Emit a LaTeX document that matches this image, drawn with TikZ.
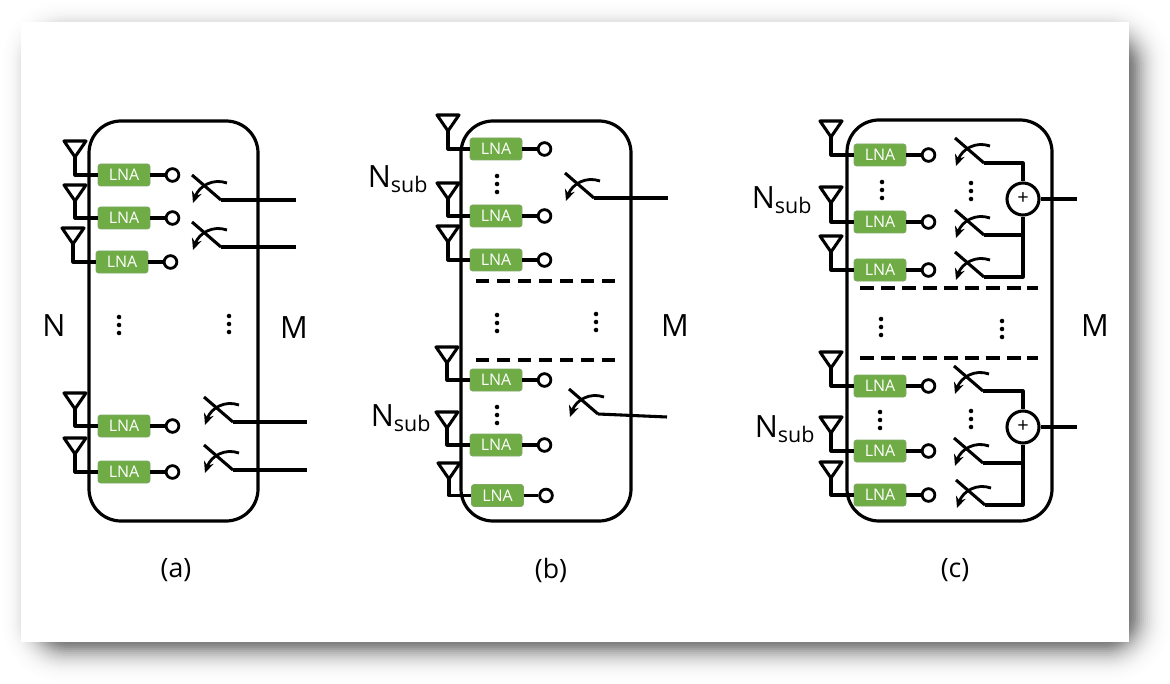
\documentclass[tikz,border=0pt]{standalone}
\usepackage{fontspec}
\setmainfont{Open Sans}
\usetikzlibrary{arrows.meta}
\tikzset{
    wire/.style = {line width = 2.3pt, line join = round},
    thinwire/.style = {line width = 2.1pt},
    module/.style = {line width = 2.4pt, rounded corners = 24pt},
    lnabox/.style = {shape = rectangle, draw = lnaedge, fill = lnagreen, rounded corners = 2pt, line width = 0.6pt,
        minimum width = 39pt, minimum height = 16.5pt, inner sep = 0pt, text = white, font = \fontsize{12}{12}\selectfont},
    port/.style = {shape = circle, draw, fill = white, line width = 2.1pt, minimum size = 9.5pt, inner sep = 0pt},
    adder/.style = {shape = circle, draw, fill = white, line width = 2.3pt, minimum size = 24pt, inner sep = 0pt, font = \fontsize{15}{15}\selectfont},
    biglabel/.style = {font = \fontsize{23}{26}\selectfont, inner sep = 0pt},
    caption/.style = {font = \fontsize{20}{24}\selectfont, inner sep = 0pt},
    vdots/.style = {shape = circle, fill = black, minimum size = 3.4pt, inner sep = 0pt},
    widedash/.style = {wire, dash pattern = on 9.4pt off 6.4pt},
    longdash/.style = {wire, line width = 2.3pt, dash pattern = on 10.5pt off 5.2pt},
}
\definecolor{lnagreen}{HTML}{6FAC46}
\definecolor{lnaedge}{HTML}{7FA864}
% antenna, LNA and output port: name, LNA x, y, stem x, top of antenna
\newcommand{\rxchain}[5]{
    \coordinate (#1a) at (#4,#5+16);
    \draw[wire] (#4-11,#5) -- (#4+11,#5) -- (#1a) -- cycle;
    \node[lnabox] (#1) at (#2,#3) {LNA};
    \node[port] (#1p) at (#2+48.5,#3) {};
    \draw[wire] (#1a) |- (#1);
    \draw[wire] (#1) -- (#1p);
}
% switch with its knee at x,y: name, x, y
\newcommand{\rxswitch}[3]{
    \coordinate (#1) at (#2,#3);
    \coordinate (#1s) at (#2-29,#3-25);
    \draw[wire] (#1s) -- (#1);
    \draw[thinwire, -{Stealth[length = 8.5pt, width = 7.5pt]}] (#2+6,#3-17) .. controls (#2-8,#3-22) and (#2-22,#3-14) .. (#2-28,#3+3);
}
\newcommand{\threedots}[3]{
    \node[vdots] (#1t) at (#2,#3-8) {};
    \node[vdots] (#1m) at (#2,#3) {};
    \node[vdots] (#1b) at (#2,#3+8) {};
}
\begin{document}
\begin{tikzpicture}[x = 0.75pt, y = -0.75pt]
    \useasboundingbox (0,0) rectangle (1170,684);
    % card and its shadow
    \foreach \d in {34,32,...,-34} {
        \pgfmathsetmacro{\shade}{0.003+0.075*(1-abs(\d)/34)^2}
        \fill[black, opacity = \shade, rounded corners = 24pt+0.6pt*\d] (36-\d,36-\d) rectangle (1136+\d,648+\d);
    }
    \fill[white] (21,22) rectangle (1129,642);

    % (a)
    \draw[module] (89,121) rectangle (258,521);
    \rxchain{aa}{124}{175}{75}{141}
    \rxchain{ab}{124}{218}{75}{185}
    \rxchain{ac}{122}{262}{73}{228}
    \rxchain{ad}{124}{426}{75}{393}
    \rxchain{ae}{124}{472}{75}{438}
    \rxswitch{asa}{221}{200}
    \rxswitch{asb}{221}{247}
    \rxswitch{asc}{233}{422}
    \rxswitch{asd}{233}{470}
    \coordinate (aoa) at (296,200);
    \coordinate (aob) at (296,247);
    \coordinate (aoc) at (307,422);
    \coordinate (aod) at (307,470);
    \draw[wire] (asa) -- (aoa);
    \draw[wire] (asb) -- (aob);
    \draw[wire] (asc) -- (aoc);
    \draw[wire] (asd) -- (aod);
    \threedots{ada}{119}{325}
    \threedots{adb}{229}{324}
    \node[biglabel] (N) at (54,326) {N};
    \node[biglabel] (Ma) at (294,328) {M};
    \node[caption] (capa) at (176,570) {(a)};

    % (b)
    \draw[module] (461,121) rectangle (631,521);
    \rxchain{ba}{496}{149}{448}{115}
    \rxchain{bb}{496}{216}{448}{183}
    \rxchain{bc}{496}{260}{448}{226}
    \rxchain{bd}{496}{380}{447}{347}
    \rxchain{be}{496}{445}{447}{412}
    \rxchain{bf}{497.5}{495.5}{449}{463}
    \rxswitch{bsa}{594}{198}
    \rxswitch{bsb}{598}{414}
    \coordinate (boa) at (668,198);
    \coordinate (bob) at (667,417);
    \draw[wire] (bsa) -- (boa);
    \draw[wire] (bsb) -- (bob);
    \coordinate (bla) at (476,281);
    \coordinate (blb) at (615,281);
    \coordinate (blc) at (476,360);
    \coordinate (bld) at (615,360);
    \draw[widedash] (bla) -- (blb);
    \draw[widedash] (blc) -- (bld);
    \threedots{bda}{497}{184}
    \threedots{bdb}{497}{415}
    \threedots{bdc}{497}{323}
    \threedots{bdd}{596}{322}
    \node[biglabel] (Nsa) at (398,179) {N\textsubscript{sub}};
    \node[biglabel] (Nsb) at (401,418) {N\textsubscript{sub}};
    \node[biglabel] (Mb) at (675,326) {M};
    \node[caption] (capb) at (551,570) {(b)};

    % (c)
    \draw[module] (847,120) rectangle (1052,521);
    \rxchain{ca}{880}{155}{831}{121}
    \rxchain{cb}{880}{222}{831}{187}
    \rxchain{cc}{880}{270}{831}{236}
    \rxchain{cd}{880}{386}{831}{352}
    \rxchain{ce}{880}{451}{831}{417}
    \rxchain{cf}{880}{495}{831}{462}
    \rxswitch{csa}{984}{163}
    \rxswitch{csb}{984}{235}
    \rxswitch{csc}{984}{277}
    \rxswitch{csd}{983}{391}
    \rxswitch{cse}{983}{463}
    \rxswitch{csf}{985}{505}
    \coordinate (coa) at (1077,199);
    \coordinate (cob) at (1077,427);
    \node[adder] (suma) at (1023,199) {+};
    \node[adder] (sumb) at (1023,427) {+};
    \draw[wire] (csa) -| (suma);
    \draw[wire] (csb) -| (suma);
    \draw[wire] (csc) -| (suma);
    \draw[wire] (csd) -| (sumb);
    \draw[wire] (cse) -| (sumb);
    \draw[wire] (csf) -| (sumb);
    \draw[wire] (suma) -- (coa);
    \draw[wire] (sumb) -- (cob);
    \coordinate (cla) at (860,288);
    \coordinate (clb) at (1038,288);
    \coordinate (clc) at (860,358);
    \coordinate (cld) at (1038,358);
    \draw[longdash] (cla) -- (clb);
    \draw[longdash] (clc) -- (cld);
    \threedots{cda}{882}{190}
    \threedots{cdb}{971}{191}
    \threedots{cdc}{881}{327}
    \threedots{cdd}{1002}{329}
    \threedots{cde}{880}{420}
    \threedots{cdf}{971}{419}
    \node[biglabel] (Nsc) at (782,200) {N\textsubscript{sub}};
    \node[biglabel] (Nsd) at (785,429) {N\textsubscript{sub}};
    \node[biglabel] (Mc) at (1095,326) {M};
    \node[caption] (capc) at (955,570) {(c)};
\end{tikzpicture}
\end{document}
